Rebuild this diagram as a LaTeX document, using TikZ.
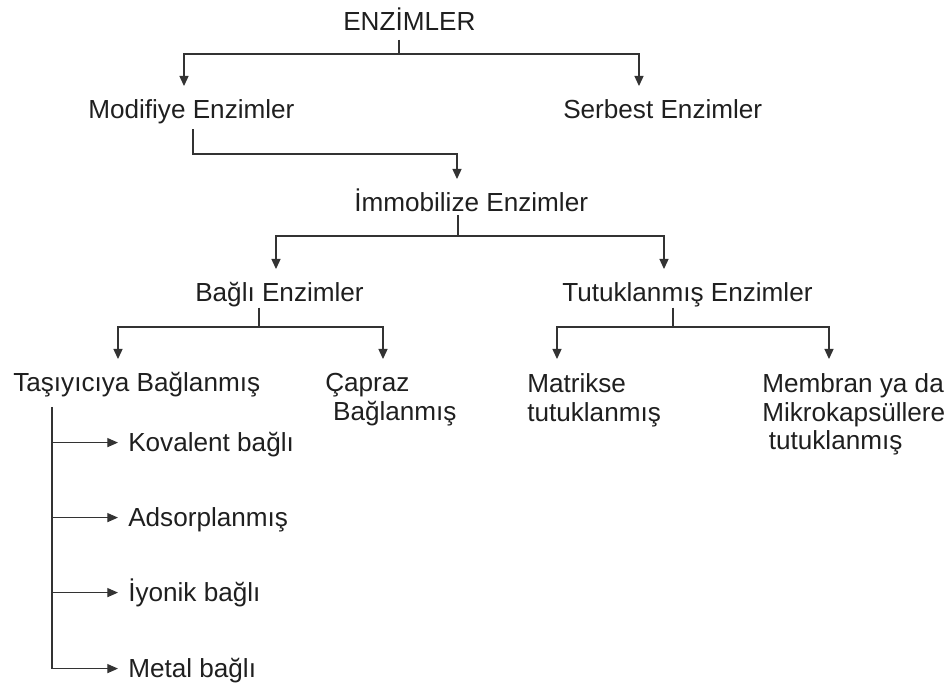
\documentclass[tikz,border=0pt]{standalone}
\usepackage{fontspec}
\setmainfont{Liberation Sans}
\usetikzlibrary{arrows.meta}
\begin{document}
\begin{tikzpicture}[x=0.75pt,y=-0.75pt,
    txt/.style={anchor=north west,inner sep=0pt,text=black!88,
      font=\fontsize{19.6pt}{21.6pt}\selectfont},
    lbl/.style={txt,text height=14pt,text depth=0pt},
    mlbl/.style={txt,align=left},
    line/.style={draw=black!80,line width=0.8pt},
    stub/.style={line,shorten <=#1},
    arr/.style={line,-{Triangle[length=7.5pt,width=6.8pt]},shorten >=10.5pt},
    side/.style={arr,-{Triangle[length=8pt,width=6.8pt]},shorten >=7.5pt}]
    \useasboundingbox (0,0) rectangle (951,688);
    \node[lbl] (enz) at (343,12) {ENZİMLER};
    \node[lbl] (mod) at (88,100) {Modifiye Enzimler};
    \node[lbl] (ser) at (563,100) {Serbest Enzimler};
    \node[lbl] (imm) at (354,193) {İmmobilize Enzimler};
    \node[lbl] (bag) at (195,283) {Bağlı Enzimler};
    \node[lbl] (tut) at (562,283) {Tutuklanmış Enzimler};
    \node[lbl] (tas) at (13,373) {Taşıyıcıya Bağlanmış};
    \node[mlbl] (cap) at (325,373) {Çapraz\\\hspace*{.3em}Bağlanmış};
    \node[mlbl] (mat) at (527,373) {Matrikse\\tutuklanmış};
    \node[mlbl] (mem) at (762,373) {Membran ya da\\Mikrokapsüllere\\\hspace*{.25em}tutuklanmış};
    \node[lbl] (kov) at (128,433) {Kovalent bağlı};
    \node[lbl] (ads) at (128,508) {Adsorplanmış};
    \node[lbl] (iyo) at (128,583) {İyonik bağlı};
    \node[lbl] (met) at (128,659) {Metal bağlı};
    \coordinate (enzJ) at (399,54);
    \coordinate (enzL) at (184,54);
    \coordinate (enzR) at (639,54);
    \coordinate (modJ) at (193,154);
    \coordinate (immA) at (457,154);
    \coordinate (immJ) at (458,236);
    \coordinate (immL) at (276,236);
    \coordinate (immR) at (664,236);
    \coordinate (bagJ) at (259,327);
    \coordinate (bagL) at (118,327);
    \coordinate (bagR) at (383,327);
    \coordinate (tutJ) at (673,327);
    \coordinate (tutL) at (557,327);
    \coordinate (tutR) at (829,327);
    \coordinate (tasJ) at (52,400);
    \draw[stub=6.5pt] (enz.south -| enzJ) -- (enzJ);
    \draw[arr] (enzJ) -| (mod.north -| enzL);
    \draw[arr] (enzJ) -| (ser.north -| enzR);
    \draw[arr,shorten <=7.5pt] (mod.south -| modJ) -- (modJ) -| (imm.north -| immA);
    \draw[stub=2pt] (imm.south -| immJ) -- (immJ);
    \draw[arr] (immJ) -| (bag.north -| immL);
    \draw[arr] (immJ) -| (tut.north -| immR);
    \draw[stub=4pt] (bag.south -| bagJ) -- (bagJ);
    \draw[arr] (bagJ) -| (tas.north -| bagL);
    \draw[arr] (bagJ) -| (cap.north -| bagR);
    \draw[stub=4pt] (tut.south -| tutJ) -- (tutJ);
    \draw[arr] (tutJ) -| (mat.north -| tutL);
    \draw[arr] (tutJ) -| (mem.north -| tutR);
    \draw[stub=11pt] (tas.south -| tasJ) -- (met.west -| tasJ);
    \foreach \n in {kov,ads,iyo,met}
      \draw[side] (\n.west -| tasJ) -- (\n.west);
\end{tikzpicture}
\end{document}
